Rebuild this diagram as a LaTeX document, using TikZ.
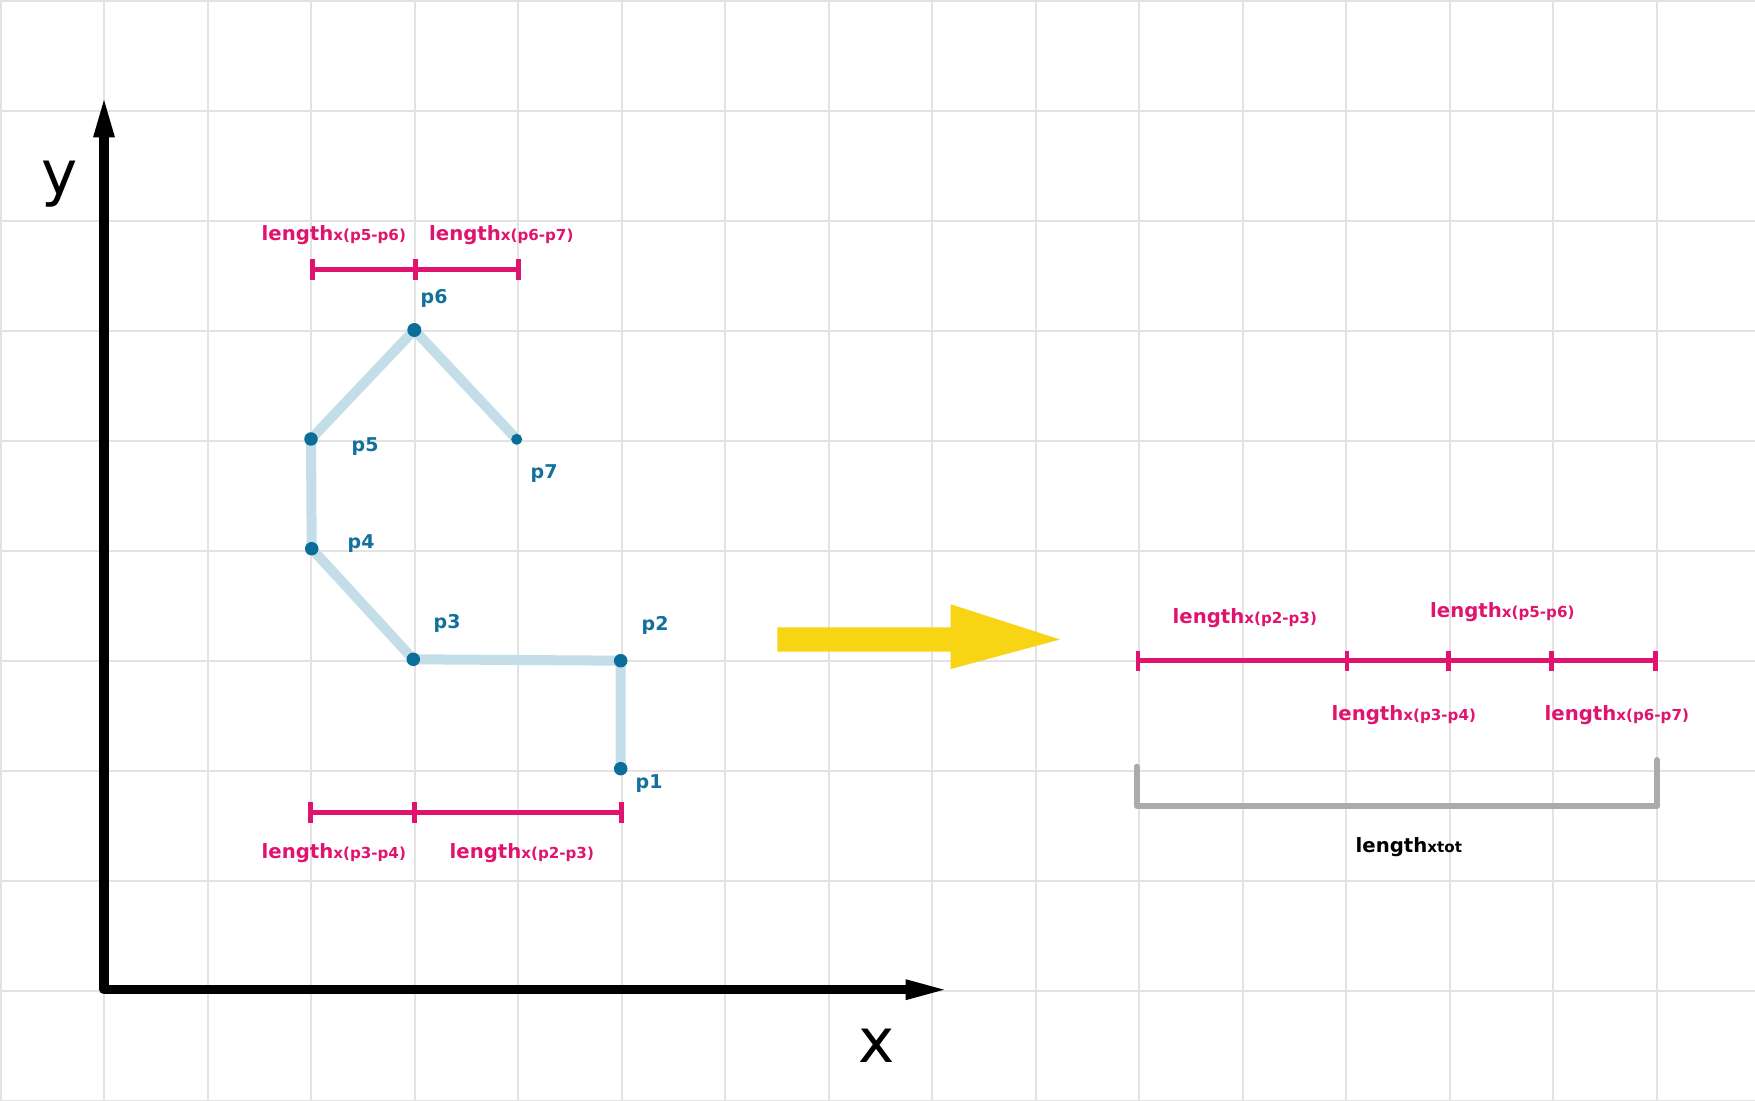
\documentclass[tikz,border=0pt]{standalone}
\usepackage{fontspec}
\setmainfont{DejaVu Sans}
\usetikzlibrary{arrows.meta}
\definecolor{gridc}{HTML}{E3E3E3}
\definecolor{mag}{HTML}{E0136F}
\definecolor{pdot}{HTML}{0B6E99}
\definecolor{ptext}{HTML}{13709A}
\definecolor{lblue}{HTML}{C3DEE8}
\definecolor{yel}{HTML}{F7D414}
\definecolor{brk}{HTML}{ABABAB}
\newcommand{\mysub}[1]{{\fontsize{4.3}{5}\selectfont #1}}
\tikzset{
  gridline/.style={draw=gridc, line width=0.02cm},
  pathline/.style={draw=lblue, line width=0.1cm, line join=round, line cap=round},
  dot/.style={circle, fill=pdot, inner sep=0pt, minimum size=0.135cm},
  plabel/.style={text=ptext, font=\fontsize{5.4}{6}\selectfont\bfseries, inner sep=0pt, anchor=base west},
  lenlabel/.style={text=mag, font=\fontsize{5.6}{6}\selectfont\bfseries, inner sep=0pt, anchor=base west},
  totlabel/.style={text=black, font=\fontsize{5.6}{6}\selectfont\bfseries, inner sep=0pt, anchor=base west},
  magbar/.style={draw=mag, line width=0.05cm},
  magtick/.style={draw=mag, line width=0.045cm},
  axisline/.style={draw=black, line width=0.09cm, line join=round},
  axhead/.style={fill=black},
  axlabel/.style={font=\fontsize{17.4}{20}\selectfont, inner sep=0pt, anchor=base west},
  bracketline/.style={draw=brk, line width=0.06cm, line cap=round, line join=round},
  bigarrow/.style={fill=yel}
}
\begin{document}
\begin{tikzpicture}[x=0.01cm, y=-0.01cm]
\useasboundingbox (0,0) rectangle (1755,1101);
\fill[white] (0,0) rectangle (1755,1101);
% grid
\foreach \k in {0,...,16} \draw[gridline] ({0.5+103.5*\k},0) -- ({0.5+103.5*\k},1101);
\foreach \k in {0,...,10} \draw[gridline] (0,{0.7+110*\k}) -- (1755,{0.7+110*\k});
% axes
\coordinate (ytip) at (104,100);
\coordinate (ybase) at (104,137.5);
\coordinate (origin) at (104,989.7);
\coordinate (xbase) at (905.6,989.7);
\coordinate (xtip) at (944,989.7);
\draw[axisline] (ybase) -- (origin) -- (xbase);
\fill[axhead] (ytip) -- ([xshift=0.11cm]ybase) -- ([xshift=-0.11cm]ybase) -- cycle;
\fill[axhead] (xtip) -- ([yshift=0.105cm]xbase) -- ([yshift=-0.105cm]xbase) -- cycle;
\node[axlabel] (ylab) at (41,195) {y};
\node[axlabel] (xlab) at (858,1062.3) {x};
% polyline
\coordinate (c1) at (620.7,768.7);
\coordinate (c2) at (620.7,660.7);
\coordinate (c3) at (413.3,659.3);
\coordinate (c4) at (311.7,548.7);
\coordinate (c5) at (311,439);
\coordinate (c6) at (414.3,330);
\coordinate (c7) at (516.7,439.3);
\draw[pathline] (c1) -- (c2) -- (c3) -- (c4) -- (c5) -- (c6) -- (c7);
\node[dot] (p1) at (c1) {};
\node[dot] (p2) at (c2) {};
\node[dot] (p3) at (c3) {};
\node[dot] (p4) at (c4) {};
\node[dot] (p5) at (c5) {};
\node[dot, minimum size=0.14cm] (p6) at (c6) {};
\node[dot, minimum size=0.11cm] (p7) at (c7) {};
\node[plabel] (l1) at (635,788) {p1};
\node[plabel] (l2) at (641,630.5) {p2};
\node[plabel] (l3) at (433,629) {p3};
\node[plabel] (l4) at (347,549) {p4};
\node[plabel] (l5) at (351,452) {p5};
\node[plabel] (l6) at (420,303.5) {p6};
\node[plabel] (l7) at (530,479) {p7};
% top bar
\coordinate (ta) at (312.7,270);
\coordinate (tb) at (415.7,270);
\coordinate (tc) at (518.3,270);
\draw[magbar] (ta) -- (tc);
\foreach \t in {ta,tb,tc} \draw[magtick] (\t) ++(0,-10.5) -- ++(0,21);
\node[lenlabel] (lt1) at (261,240.7) {length\mysub{x(p5-p6)}};
\node[lenlabel] (lt2) at (428.5,240.7) {length\mysub{x(p6-p7)}};
% bottom bar
\coordinate (ba) at (310.3,812.7);
\coordinate (bb) at (414.3,812.7);
\coordinate (bc) at (621.7,812.7);
\draw[magbar] (ba) -- (bc);
\foreach \t in {ba,bb,bc} \draw[magtick] (\t) ++(0,-10.5) -- ++(0,21);
\node[lenlabel] (lb1) at (261,858) {length\mysub{x(p3-p4)}};
\node[lenlabel] (lb2) at (449,858) {length\mysub{x(p2-p3)}};
% yellow arrow
\coordinate (ya) at (777.3,639.5);
\coordinate (ym) at (950.7,639.5);
\coordinate (yb) at (1060,639.5);
\fill[bigarrow] ([yshift=0.12cm]ya) -- ([yshift=0.12cm]ym) -- ([yshift=0.352cm]ym) -- (yb)
  -- ([yshift=-0.295cm]ym) -- ([yshift=-0.12cm]ym) -- ([yshift=-0.12cm]ya) -- cycle;
% right bar
\coordinate (ra) at (1138,660.7);
\coordinate (rb) at (1346.8,660.7);
\coordinate (rc) at (1448.7,661.5);
\coordinate (rd) at (1551.4,660.7);
\coordinate (re) at (1655.6,660.7);
\draw[magbar] (ra) -- (re);
\foreach \t in {ra,rb,rc,rd,re} \draw[magtick] (\t) ++(0,-10) -- ++(0,20);
\node[lenlabel] (lr1) at (1172,623.3) {length\mysub{x(p2-p3)}};
\node[lenlabel] (lr2) at (1429.5,617.7) {length\mysub{x(p5-p6)}};
\node[lenlabel] (lr3) at (1331,720.7) {length\mysub{x(p3-p4)}};
\node[lenlabel] (lr4) at (1544,720.7) {length\mysub{x(p6-p7)}};
% bracket
\coordinate (ka) at (1136.5,766.7);
\coordinate (kb) at (1136.5,806);
\coordinate (kc) at (1657,806);
\coordinate (kd) at (1657,760);
\draw[bracketline] (ka) -- (kb) -- (kc) -- (kd);
\node[totlabel] (ltot) at (1355,852.3) {length\mysub{xtot}};
\end{tikzpicture}
\end{document}
